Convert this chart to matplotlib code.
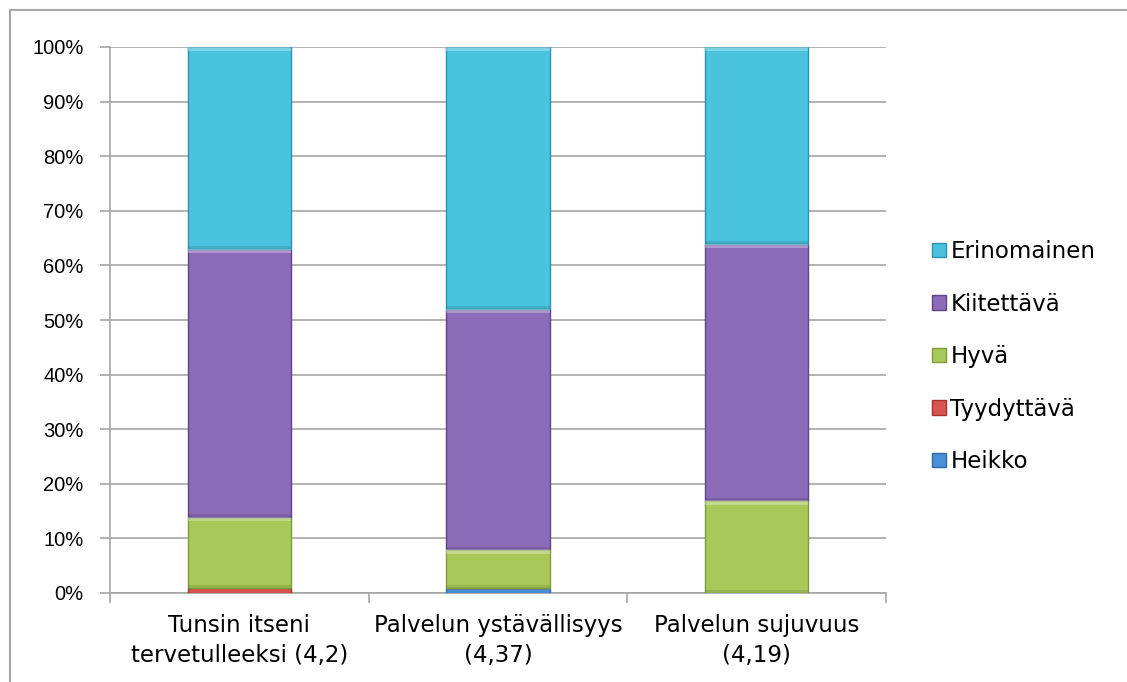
import numpy as np
import matplotlib.pyplot as plt
from matplotlib.patches import Rectangle

categories = ['Tunsin itseni\ntervetulleeksi (4,2)',
              'Palvelun ystävällisyys\n(4,37)',
              'Palvelun sujuvuus\n(4,19)']
series = ['Heikko', 'Tyydyttävä', 'Hyvä', 'Kiitettävä', 'Erinomainen']
heikko = [0, 1, 0]
tyydyttava = [1, 0, 0]
hyva = [13, 7, 17]
kiitettava = [49, 44, 47]
erinomainen = [37, 48, 36]
values = [heikko, tyydyttava, hyva, kiitettava, erinomainen]
colors = ['#4a8fd6', '#d9534f', '#a8c95a', '#8c6bb8', '#4ac3df']
edges = ['#2f6aa8', '#a8322f', '#7f9c3a', '#5e4585', '#2e93ad']

fig = plt.figure(figsize=(11.27, 6.82), dpi=100)
ax = fig.add_axes([110 / 1127, 1 - 593 / 682, 776 / 1127, 546 / 682])

# outer chart border
fig.patches.append(Rectangle((10 / 1127, -0.05), 1.2, 1 - 10 / 682 + 0.05,
                             transform=fig.transFigure, fill=False,
                             edgecolor='#a6a6a6', linewidth=1.5))

x = np.arange(len(categories))
width = 0.4
band = 0.8  # bevel band height in data units
bottom = np.zeros(len(categories))
for name, vals, c, ec in zip(series, values, colors, edges):
    vals = np.array(vals, dtype=float)
    ax.bar(x, vals, width=width, bottom=bottom, color=c, edgecolor=ec,
           linewidth=1.0, label=name, zorder=3)
    # soft bevel: light strip on top, shaded strip at the base
    big = vals >= 2
    top = bottom + vals
    ax.bar(x[big], band, width=width, bottom=top[big] - band,
           color='white', alpha=0.3, linewidth=0, zorder=4)
    ax.bar(x[big], band * 0.6, width=width, bottom=bottom[big],
           color='black', alpha=0.1, linewidth=0, zorder=4)
    bottom += vals

ax.set_xlim(-0.5, len(categories) - 0.5)
ax.set_ylim(0, 100)
ax.set_yticks(np.arange(0, 101, 10))
ax.set_yticklabels([f'{v}%' for v in range(0, 101, 10)], fontsize=14.5,
                   family='Liberation Sans')
ax.yaxis.grid(True, color='#a6a6a6', linewidth=1.2, zorder=0)
ax.tick_params(axis='y', length=7, color='#a6a6a6', width=1.2, pad=12)

ax.set_xticks(x)
ax.set_xticklabels(categories, fontsize=16.5, linespacing=1.4)
ax.tick_params(axis='x', which='major', length=0, pad=15)
ax.set_xticks(np.arange(-0.5, len(categories)), minor=True)
ax.tick_params(axis='x', which='minor', length=7, color='#a6a6a6', width=1.2)

for side in ['top', 'right']:
    ax.spines[side].set_visible(False)
for side in ['left', 'bottom']:
    ax.spines[side].set_color('#a6a6a6')
    ax.spines[side].set_linewidth(1.2)

handles, labels = ax.get_legend_handles_labels()
ax.legend(handles[::-1], labels[::-1], loc='center left',
          bbox_to_anchor=(1.045, 0.433), frameon=False, fontsize=16.5,
          labelspacing=1.29, handlelength=0.58, handleheight=0.58,
          handletextpad=0.2, borderpad=0)

fig.savefig('out.png', dpi=100)
